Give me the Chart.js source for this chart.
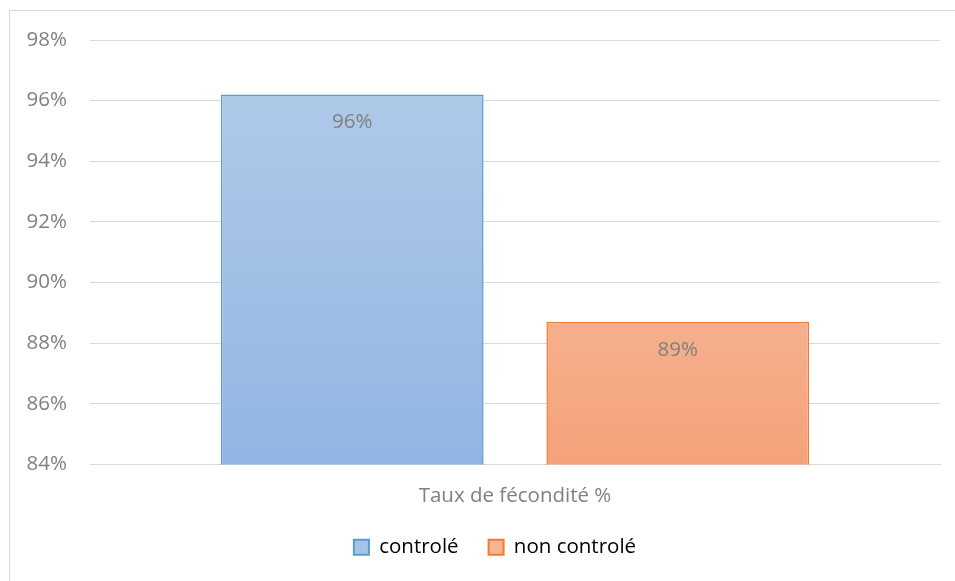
<!DOCTYPE html>
<html>
<head>
<meta charset="utf-8">
<script src="https://cdn.jsdelivr.net/npm/chart.js@4/dist/chart.umd.min.js"></script>
<style>
  html, body { margin: 0; padding: 0; background: #fff; }
  #wrap { position: relative; width: 955px; height: 581px; }
  #frame { position: absolute; left: 9px; top: 10px; width: 960px; height: 600px; border: 1px solid #d9d9d9; box-sizing: border-box; }
</style>
</head>
<body>
<div id="wrap">
  <div id="frame"></div>
  <canvas id="chart" width="955" height="581"></canvas>
</div>
<script>
// data
const categories = ['Taux de fécondité %'];
const seriesNames = ['controlé', 'non controlé'];
const controleValues = [96.2];
const nonControleValues = [88.7];
const yTicks = [84, 86, 88, 90, 92, 94, 96, 98];

const textGray = '#808080';
const font = { family: "'Open Sans', 'Noto Sans', sans-serif", size: 20.5 };

function vGradient(top, bottom) {
  return (ctx) => {
    const area = ctx.chart.chartArea;
    if (!area) return bottom;
    const g = ctx.chart.ctx.createLinearGradient(0, area.top, 0, area.bottom);
    g.addColorStop(0, top);
    g.addColorStop(1, bottom);
    return g;
  };
}

const barLabels = {
  id: 'barLabels',
  afterDatasetsDraw(chart) {
    const c = chart.ctx;
    c.save();
    c.font = `${font.size}px ${font.family}`;
    c.fillStyle = textGray;
    c.textAlign = 'center';
    c.textBaseline = 'middle';
    chart.data.datasets.forEach((ds, i) => {
      chart.getDatasetMeta(i).data.forEach((bar, j) => {
        c.fillText(Math.round(ds.data[j]) + '%', bar.x, bar.y + 28);
      });
    });
    c.restore();
  }
};

// nudge the legend to the right, like the original
const legendShift = {
  id: 'legendShift',
  afterLayout(chart) {
    if (chart.legend) {
      chart.legend.left += 20;
      chart.legend.right += 20;
    }
  }
};

new Chart(document.getElementById('chart'), {
  type: 'bar',
  data: {
    labels: categories,
    datasets: [
      {
        label: seriesNames[0],
        data: controleValues,
        backgroundColor: vGradient('#b3cce9', '#91b5e2'),
        borderColor: '#5b9bd5',
        borderWidth: 1.5,
        categoryPercentage: 0.766,
        barPercentage: 0.807,
      },
      {
        label: seriesNames[1],
        data: nonControleValues,
        backgroundColor: vGradient('#f9c9b2', '#f4a27a'),
        borderColor: '#ed7d31',
        borderWidth: 1.5,
        categoryPercentage: 0.766,
        barPercentage: 0.807,
      },
    ],
  },
  options: {
    responsive: false,
    animation: false,
    layout: { padding: { left: 10, right: 15, top: 40, bottom: 13.5 } },
    scales: {
      x: {
        grid: { display: false, drawTicks: false },
        border: { display: true, color: '#d9d9d9', width: 1 },
        ticks: { color: textGray, font: font, padding: 19 },
        afterFit: (s) => { s.height = 42.5; },
      },
      y: {
        min: 84,
        max: 98,
        afterBuildTicks: (s) => { s.ticks = yTicks.map((v) => ({ value: v })); },
        grid: { color: '#d9d9d9', lineWidth: 1, drawTicks: false },
        border: { display: false },
        ticks: { color: textGray, font: font, padding: 23, callback: (v) => v + '%' },
        afterFit: (s) => { s.width = 80; },
      },
    },
    plugins: {
      tooltip: { enabled: false },
      legend: {
        position: 'bottom',
        maxHeight: 65,
        labels: {
          color: textGray,
          font: font,
          boxWidth: 15,
          boxHeight: 15,
          padding: 30,
          generateLabels: () => [
            { text: seriesNames[0], fillStyle: '#a6c4e7', strokeStyle: '#5b9bd5', lineWidth: 2, datasetIndex: 0 },
            { text: seriesNames[1], fillStyle: '#f7b597', strokeStyle: '#ed7d31', lineWidth: 2, datasetIndex: 1 },
          ],
        },
      },
    },
  },
  plugins: [barLabels, legendShift],
});
</script>
</body>
</html>
